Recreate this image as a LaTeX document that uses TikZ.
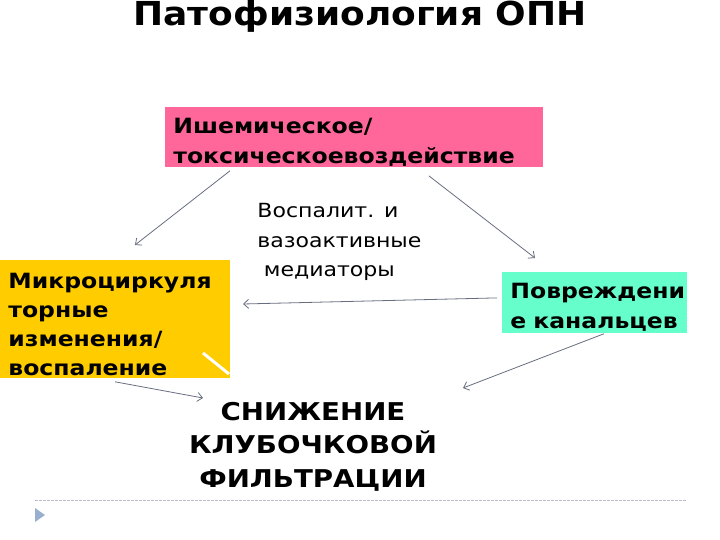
\documentclass[tikz,border=0pt]{standalone}
\usepackage{fontspec}
\setmainfont{DejaVu Sans}
\usetikzlibrary{arrows.meta}
\definecolor{rozov}{RGB}{255,102,153}
\definecolor{zholt}{RGB}{255,204,0}
\definecolor{mint}{RGB}{102,255,204}
\definecolor{strelkacol}{RGB}{104,110,128}
\definecolor{liniya}{RGB}{185,188,196}
\definecolor{marker}{RGB}{152,176,206}

\begin{document}
\begin{tikzpicture}[x=1pt,y=-1pt,line width=0.8pt,>={Straight Barb[length=5pt,width=9pt]},
  blok/.style={anchor=north west,inner xsep=8pt,inner ysep=0pt,align=left,text=black,
    font=\bfseries\fontsize{21}{30}\selectfont\addfontfeature{FakeStretch=1.12}},
  strelka/.style={->,draw=strelkacol}]
  \useasboundingbox (0,0) rectangle (720,540);
  % zagolovok
  \node[font=\bfseries\fontsize{33}{40}\selectfont\addfontfeature{FakeStretch=1.09},anchor=base] (titul) at (360,26) {Патофизиология ОПН};
  % bloki
  \node[blok,fill=rozov,minimum width=378pt,text width=362pt,text height=26pt,text depth=34pt] (ishem) at (165,107)
    {Ишемическое/\\токсическоевоздействие};
  \node[blok,fill=zholt,minimum width=230pt,text width=214pt,text height=28pt,text depth=90pt,
    font=\bfseries\fontsize{21}{29}\selectfont\addfontfeature{FakeStretch=1.12}] (mikro) at (0,260)
    {Микроциркуля\\торные\\изменения/\\воспаление};
  \node[blok,fill=mint,minimum width=185pt,text width=169pt,text height=26pt,text depth=35pt] (kanal) at (502,272)
    {Повреждени\\е канальцев};
  \draw[white,line width=3pt] (203,353) -- (229,374);
  % podpisi
  \node[anchor=base west,inner sep=0pt,align=left,text width=180pt,
    font=\fontsize{19.5}{29.5}\selectfont\addfontfeature{FakeStretch=1.13}] (mediat) at (257,218)
    {Воспалит. и\\вазоактивные\\\ медиаторы};
  \node[anchor=base,align=center,inner sep=0pt,text width=320pt,
    font=\bfseries\fontsize{24.5}{33.5}\selectfont\addfontfeature{FakeStretch=1.13}] (skf) at (313,420)
    {СНИЖЕНИЕ\\КЛУБОЧКОВОЙ\\ФИЛЬТРАЦИИ};
  % strelki
  \coordinate (k1) at (135,245);
  \coordinate (k2) at (535,258);
  \coordinate (k3) at (243,304);
  \coordinate (k4) at (203,398);
  \coordinate (k5) at (463,388);
  \draw[strelka] ([xshift=65pt,yshift=-3pt]ishem.south west) -- (k1);
  \draw[strelka] ([xshift=-115pt,yshift=-8pt]ishem.south east) -- (k2);
  \draw[strelka] ([xshift=-5pt,yshift=5pt]kanal.west) -- (k3);
  \draw[strelka] ([xshift=115pt,yshift=-3pt]mikro.south west) -- (k4);
  \draw[strelka] ([xshift=-84pt]kanal.south east) -- (k5);
  % nizhnyaya liniya
  \draw[liniya,line width=0.6pt,dash pattern=on 3pt off 1pt] (35,500) -- (687,500);
  \fill[marker] (35,508) -- (45,515) -- (35,522) -- cycle;
\end{tikzpicture}
\end{document}
